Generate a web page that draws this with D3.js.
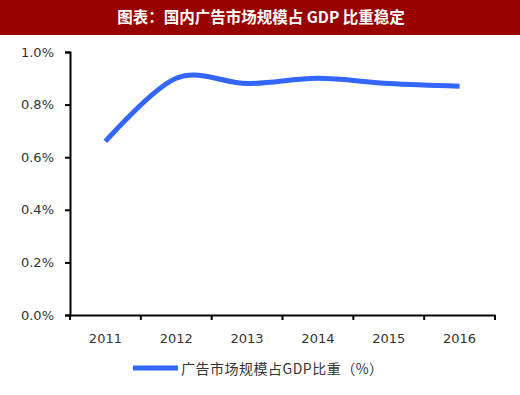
<!DOCTYPE html>
<html>
<head>
<meta charset="utf-8">
<script src="https://d3js.org/d3.v7.min.js"></script>
<style>
  body { margin: 0; background: #fff; }
  svg { display: block; font-family: "Noto Sans CJK SC", "DejaVu Sans", sans-serif; }
</style>
</head>
<body>
<div id="chart"></div>
<script>
// data
var years = ["2011", "2012", "2013", "2014", "2015", "2016"];
var shares = [0.66, 0.90, 0.88, 0.90, 0.88, 0.87];   // %
var yTicks = [0, 0.2, 0.4, 0.6, 0.8, 1.0];
var titleText = "图表：国内广告市场规模占 GDP 比重稳定";
var seriesName = "广告市场规模占GDP比重（%）";

var W = 520, H = 395;

var svg = d3.select("#chart").append("svg")
    .attr("width", W).attr("height", H);

// title bar
svg.append("rect").attr("x", 0).attr("y", 0)
  .attr("width", W).attr("height", 35).attr("fill", "#990000");
svg.append("text").attr("x", W / 2 + 1).attr("y", 23)
  .attr("text-anchor", "middle").attr("fill", "#fff")
  .style("font-size", "15.5px").style("font-weight", "bold")
  .text(titleText);

var x = d3.scaleBand().domain(years).range([70, 495]);
var y = d3.scaleLinear().domain([0, 1.0]).range([315, 52]);

// y axis
var gy = svg.append("g").attr("transform", "translate(70,0)")
  .call(d3.axisLeft(y).tickValues(yTicks).tickSize(5).tickPadding(11)
    .tickFormat(function(d) { return d.toFixed(1) + "%"; }));
gy.select(".domain").attr("stroke", "#000").attr("stroke-width", 2);
gy.selectAll(".tick line").attr("stroke", "#000").attr("stroke-width", 2);
gy.selectAll("text").style("font-size", "13px").attr("fill", "#333")
  .style("font-family", "'DejaVu Sans', sans-serif");

// x axis, ticks at band edges
var gx = svg.append("g").attr("transform", "translate(0,315)")
  .call(d3.axisBottom(x).tickSize(0).tickPadding(19));
gx.select(".domain").attr("stroke", "#000").attr("stroke-width", 2);
gx.selectAll("text").style("font-size", "13px").attr("fill", "#333")
  .style("font-family", "'DejaVu Sans', sans-serif");
var edges = years.map(function(d) { return x(d); }).concat([x.range()[1]]);
gx.selectAll(".edge").data(edges).enter().append("line")
  .attr("x1", function(d) { return d; }).attr("x2", function(d) { return d; })
  .attr("y1", 0).attr("y2", 5)
  .attr("stroke", "#000").attr("stroke-width", 2);

// line
var line = d3.line()
  .x(function(d, i) { return x(years[i]) + x.bandwidth() / 2; })
  .y(function(d) { return y(d); })
  .curve(d3.curveCardinal.tension(0));
svg.append("path").datum(shares)
  .attr("d", line)
  .attr("fill", "none")
  .attr("stroke", "#3366ff")
  .attr("stroke-width", 5);

// legend
svg.append("line").attr("x1", 133).attr("x2", 178)
  .attr("y1", 368).attr("y2", 368)
  .attr("stroke", "#3366ff").attr("stroke-width", 5);
svg.append("text").attr("x", 181).attr("y", 374)
  .attr("fill", "#333").style("font-size", "14px")
  .style("letter-spacing", "0.5px")
  .text(seriesName);
</script>
</body>
</html>
